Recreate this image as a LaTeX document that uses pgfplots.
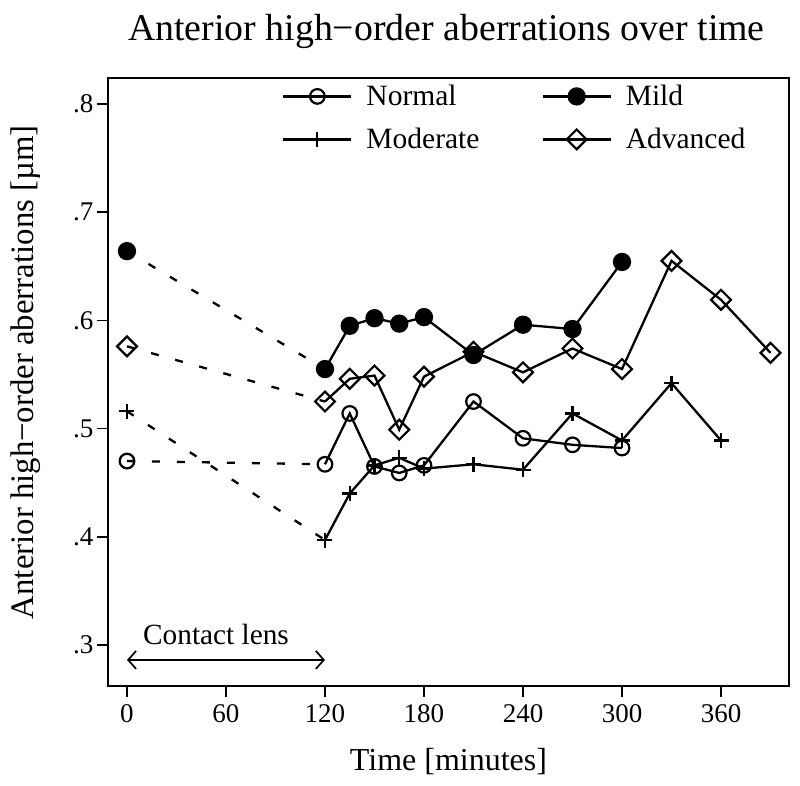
\documentclass[border=0pt]{standalone}
\usepackage{pgfplots}
\pgfplotsset{compat=1.18}
\usepackage{fontspec}
\setmainfont{Liberation Serif}
\usetikzlibrary{arrows.meta,calc}
\begin{document}
\begin{tikzpicture}
\begin{axis}[
  scale only axis,
  width=681pt, height=608pt,
  xmin=-11.5, xmax=401.2,
  ymin=0.2621, ymax=0.824,
  axis line style={line width=1.5pt},
  every tick/.style={black, line width=1.5pt},
  tick align=outside,
  major tick length=11pt,
  xtick={0,60,120,180,240,300,360},
  xticklabels={0,60,120,180,240,300,360},
  ytick={0.3,0.4,0.5,0.6,0.7,0.8},
  yticklabels={.3,.4,.5,.6,.7,.8},
  xtick pos=bottom, ytick pos=left,
  tick label style={font=\fontsize{27}{30}\selectfont},
  xticklabel style={yshift=-4pt},
  /pgf/number format/assume math mode=true,
  title={Anterior high\textminus order aberrations over time},
  title style={font=\fontsize{37.8}{40}\selectfont, at={(axis description cs:0.5,1)}, anchor=base, yshift=31pt, xshift=-2pt},
  xlabel={Time [minutes]},
  xlabel style={font=\fontsize{32}{36}\selectfont, at={(axis description cs:0.5,0)}, anchor=base, yshift=-84pt},
  ylabel={Anterior high\textminus order aberrations [µm]},
  ylabel style={font=\fontsize{32.8}{36}\selectfont, at={(axis description cs:-0.1101,0.516)}, anchor=base},
  legend columns=2,
  legend cell align=left,
  legend style={draw=none, fill=none, at={(axis description cs:0.2555,0.9914)}, anchor=north west,
    font=\fontsize{29.5}{32}\selectfont, inner sep=0pt,
    nodes={inner sep=2pt},
    row sep=17pt,
    /tikz/every odd column/.append style={column sep=12pt},
    /tikz/every even column/.append style={column sep=60pt}},
  legend image code/.code={\draw[mark repeat=2,mark phase=2] plot coordinates {(0pt,0pt) (34pt,0pt) (68pt,0pt)};},
  every axis plot/.append style={black, line width=2.3pt},
]
% Normal
\addplot[mark=o, mark size=7.3pt, mark options={solid, line width=2.2pt}] coordinates {
 (120,0.467) (135,0.514) (150,0.465) (165,0.459) (180,0.466) (210,0.525) (240,0.491) (270,0.485) (300,0.482)};
\addlegendentry{Normal}
% Mild
\addplot[mark=*, mark size=8pt, mark options={solid, fill=black}] coordinates {
 (120,0.555) (135,0.595) (150,0.602) (165,0.597) (180,0.603) (210,0.568) (240,0.596) (270,0.592) (300,0.654)};
\addlegendentry{Mild}
% Moderate
\addplot[mark=+, mark size=7.5pt, mark options={solid, line width=2.3pt}] coordinates {
 (120,0.397) (135,0.440) (150,0.466) (165,0.473) (180,0.463) (210,0.467) (240,0.462) (270,0.514) (300,0.489) (330,0.542) (360,0.489)};
\addlegendentry{Moderate}
% Advanced
\addplot[mark=square, mark size=7pt, mark options={solid, rotate=45, line width=2.2pt}] coordinates {
 (120,0.525) (135,0.546) (150,0.549) (165,0.499) (180,0.548) (210,0.571) (240,0.552) (270,0.574) (300,0.555) (330,0.655) (360,0.619) (390,0.570)};
\addlegendentry{Advanced}
% dashed connections from baseline
\addplot[forget plot, dash pattern=on 8pt off 17pt, mark=o, mark size=7.3pt, mark indices={1}, mark options={solid}] coordinates {(0,0.470) (120,0.467)};
\addplot[forget plot, dash pattern=on 8pt off 17pt, mark=*, mark size=8pt, mark indices={1}, mark options={solid, fill=black}] coordinates {(0,0.664) (120,0.555)};
\addplot[forget plot, dash pattern=on 8pt off 17pt, mark=+, mark size=7.5pt, mark indices={1}, mark options={solid}] coordinates {(0,0.516) (120,0.397)};
\addplot[forget plot, dash pattern=on 8pt off 17pt, mark=square, mark size=7pt, mark indices={1}, mark options={solid, rotate=45}] coordinates {(0,0.576) (120,0.525)};
% contact lens annotation
\draw[line width=1.7pt, {Straight Barb[length=8pt,width=18pt]}-{Straight Barb[length=8pt,width=18pt]}] (axis cs:0,0.2862) -- (axis cs:120,0.2862);
\node[anchor=base west, inner sep=0pt, font=\fontsize{29.3}{32}\selectfont] at (axis cs:9.7,0.300) {Contact lens};
\end{axis}
\path ($(current axis.south west)+(-108pt,-99pt)$) rectangle ($(current axis.north east)+(11pt,78pt)$);
\end{tikzpicture}
\end{document}
